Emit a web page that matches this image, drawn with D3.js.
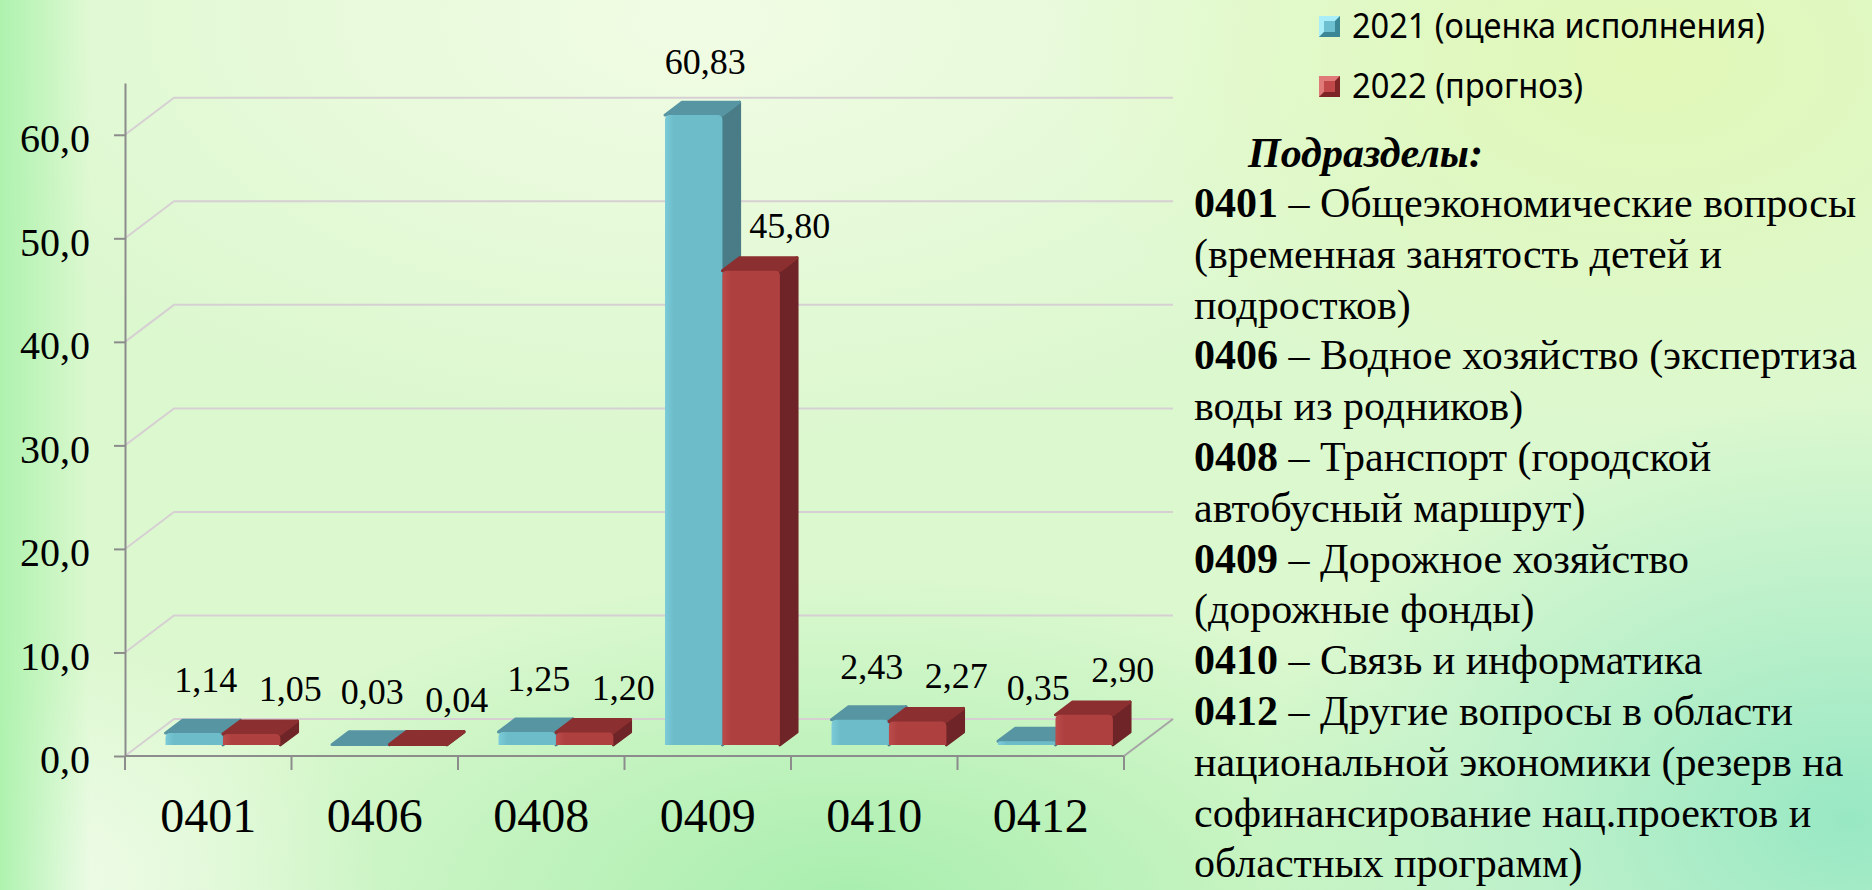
<!DOCTYPE html>
<html>
<head>
<meta charset="utf-8">
<script src="https://cdn.jsdelivr.net/npm/d3@7"></script>
<style>
  html, body { margin: 0; padding: 0; overflow: hidden; }
  svg { display: block; }
</style>
</head>
<body>
<div id="chart"></div>
<script>
// data
const categories = ["0401", "0406", "0408", "0409", "0410", "0412"];
const series2021 = [1.14, 0.03, 1.25, 60.83, 2.43, 0.35];
const series2022 = [1.05, 0.04, 1.20, 45.80, 2.27, 2.90];
const seriesNames = ["2021 (оценка исполнения)", "2022 (прогноз)"];
const yTicks = [0, 10, 20, 30, 40, 50, 60];
const noteTitle = "Подразделы:";
const noteLines = [
  ["0401", " – Общеэкономические вопросы"],
  ["", "(временная занятость детей и"],
  ["", "подростков)"],
  ["0406", " – Водное хозяйство (экспертиза"],
  ["", "воды из родников)"],
  ["0408", " – Транспорт (городской"],
  ["", "автобусный маршрут)"],
  ["0409", " – Дорожное хозяйство"],
  ["", "(дорожные фонды)"],
  ["0410", " – Связь и информатика"],
  ["0412", " – Другие вопросы в области"],
  ["", "национальной экономики (резерв на"],
  ["", "софинансирование нац.проектов и"],
  ["", "областных программ)"],
];

const width = 1872, height = 890;
const serif = "'Liberation Serif', 'Times New Roman', serif";

const svg = d3.select("#chart").append("svg")
  .attr("width", width).attr("height", height);
const defs = svg.append("defs");

// ---- background: soft green gradients
function radial(id, stops) {
  const g = defs.append("radialGradient").attr("id", id);
  stops.forEach(s => g.append("stop").attr("offset", s[0]).attr("stop-color", s[1]).attr("stop-opacity", s[2]));
}
radial("bgBotMid", [[0, "#a8eeae", 1], [1, "#a8eeae", 0]]);
radial("bgBotRight", [[0, "#98e8c4", 1], [1, "#98e8c4", 0]]);
radial("bgTopRight", [[0, "#e2f8b8", 1], [1, "#e2f8b8", 0]]);
radial("bgTopMid", [[0, "#f1fce4", 1], [1, "#f1fce4", 0]]);
radial("bgBotLeft", [[0, "#f0fceb", 1], [1, "#f0fceb", 0]]);
const leftEdge = defs.append("linearGradient").attr("id", "bgLeft");
leftEdge.append("stop").attr("offset", 0).attr("stop-color", "#aef2ae").attr("stop-opacity", 1);
leftEdge.append("stop").attr("offset", 1).attr("stop-color", "#aef2ae").attr("stop-opacity", 0);

svg.append("rect").attr("width", width).attr("height", height).attr("fill", "#dcf8cf");
svg.append("ellipse").attr("cx", 700).attr("cy", 20).attr("rx", 800).attr("ry", 420).attr("fill", "url(#bgTopMid)");
svg.append("ellipse").attr("cx", 1650).attr("cy", 60).attr("rx", 600).attr("ry", 380).attr("fill", "url(#bgTopRight)");
svg.append("ellipse").attr("cx", 850).attr("cy", 900).attr("rx", 700).attr("ry", 330).attr("fill", "url(#bgBotMid)");
svg.append("ellipse").attr("cx", 1850).attr("cy", 820).attr("rx", 600).attr("ry", 420).attr("fill", "url(#bgBotRight)");
svg.append("ellipse").attr("cx", 0).attr("cy", 890).attr("rx", 380).attr("ry", 260).attr("fill", "url(#bgBotLeft)");
svg.append("rect").attr("width", 90).attr("height", height).attr("fill", "url(#bgLeft)");

// ---- scales
const x0 = 125, x1 = 1124, yBase = 756;
const depth = { dx: 49, dy: -37 };     // floor depth of the 3D box
const front = 0.3, thick = 0.35;        // where bars sit in that depth

const x = d3.scaleBand().domain(categories).range([x0, x1]);
const y = d3.scaleLinear().domain([0, 65]).range([yBase, 83]);
const barW = x.bandwidth() * 0.345;
const groupPad = (x.bandwidth() - 2 * barW) / 2;

const gridColor = "#d6d0d3";
const axisColor = "#8c8c8c";

// ---- back wall gridlines + side wall diagonals
const grid = svg.append("g");
yTicks.forEach(v => {
  const yy = y(v);
  grid.append("path")
    .attr("d", `M${x0},${yy}L${x0 + depth.dx},${yy + depth.dy}L${x1 + depth.dx},${yy + depth.dy}`)
    .attr("fill", "none").attr("stroke", gridColor).attr("stroke-width", 2);
});
// floor right edge
svg.append("line")
  .attr("x1", x1).attr("y1", yBase).attr("x2", x1 + depth.dx).attr("y2", yBase + depth.dy)
  .attr("stroke", "#a5a5a5").attr("stroke-width", 2);

// ---- axes
const yAxis = svg.append("g")
  .attr("transform", `translate(${x0},0)`)
  .call(d3.axisLeft(y).tickValues(yTicks).tickSize(11).tickSizeOuter(0).tickPadding(24)
    .tickFormat(d => d3.format(".1f")(d).replace(".", ",")));
yAxis.select(".domain").attr("stroke", axisColor).attr("stroke-width", 2);
yAxis.selectAll(".tick line").attr("stroke", axisColor).attr("stroke-width", 2);
yAxis.selectAll("text").attr("font-family", serif).attr("font-size", 40)
  .attr("fill", "#000").attr("dy", "0.42em");

const xAxis = svg.append("g")
  .attr("transform", `translate(0,${yBase})`)
  .call(d3.axisBottom(x).tickSize(0).tickPadding(42));
xAxis.select(".domain").remove();
xAxis.selectAll("text").attr("font-family", serif).attr("font-size", 48).attr("fill", "#000");
svg.append("line")
  .attr("x1", x0).attr("x2", x1).attr("y1", yBase).attr("y2", yBase)
  .attr("stroke", axisColor).attr("stroke-width", 2);
svg.append("g").selectAll("line")
  .data(categories.map(c => x(c)).concat([x1]))
  .join("line")
  .attr("x1", d => d).attr("x2", d => d)
  .attr("y1", yBase).attr("y2", yBase + 14)
  .attr("stroke", axisColor).attr("stroke-width", 2);

// ---- 3D bars
const palette = [
  { front: "#6dbcca", frontLight: "#7ccbd8", top: "#5795a3", side: "#497c87" },
  { front: "#ae4040", frontLight: "#bb4c4a", top: "#8c2f30", side: "#6f2527" },
];
palette.forEach((p, i) => {
  const g = defs.append("linearGradient").attr("id", "front" + i)
    .attr("x1", 0).attr("y1", 0).attr("x2", 1).attr("y2", 0);
  g.append("stop").attr("offset", 0).attr("stop-color", p.frontLight);
  g.append("stop").attr("offset", 0.15).attr("stop-color", p.front);
  g.append("stop").attr("offset", 1).attr("stop-color", p.front);
});

const bars = [];
categories.forEach((c, i) => {
  [series2021[i], series2022[i]].forEach((v, s) => bars.push({ cat: c, s, v }));
});

const fdx = depth.dx * front, fdy = depth.dy * front;
const tdx = depth.dx * thick, tdy = depth.dy * thick;

const barG = svg.append("g");
bars.forEach(b => {
  const p = palette[b.s];
  const left = x(b.cat) + groupPad + b.s * barW + fdx;
  const right = left + barW;
  const bottom = y(0) + fdy;
  const top = y(b.v) + fdy;
  const g = barG.append("g");
  // side face
  g.append("path")
    .attr("d", `M${right},${bottom}L${right},${top}L${right + tdx},${top + tdy}L${right + tdx},${bottom + tdy}Z`)
    .attr("fill", p.side).attr("stroke", p.side).attr("stroke-linejoin", "round").attr("stroke-width", 3);
  // top face
  g.append("path")
    .attr("d", `M${left},${top}L${left + tdx},${top + tdy}L${right + tdx},${top + tdy}L${right},${top}Z`)
    .attr("fill", p.top).attr("stroke", p.top).attr("stroke-linejoin", "round").attr("stroke-width", 3);
  // front face
  const h = bottom - top;
  if (h > 1) {
    const r = Math.min(5, h / 2);
    g.append("path")
      .attr("d", `M${left},${bottom}L${left},${top + r}Q${left},${top} ${left + r},${top}` +
        `L${right - r},${top}Q${right},${top} ${right},${top + r}L${right},${bottom}Z`)
      .attr("fill", `url(#front${b.s})`);
  }
});

// ---- value labels
const fmt = v => d3.format(".2f")(v).replace(".", ",");
svg.append("g").selectAll("text")
  .data(bars)
  .join("text")
  .attr("x", d => x(d.cat) + groupPad + d.s * barW + fdx + barW / 2 + tdx / 2 + (d.s ? 30 : 3))
  .attr("y", d => y(d.v) + fdy + tdy - (d.s ? 20 : 28))
  .attr("text-anchor", "middle")
  .attr("font-family", serif).attr("font-size", 36).attr("fill", "#000")
  .text(d => fmt(d.v));

// ---- legend
const legendColors = [
  { c: "#6cc0d0", hi: "#a9eef8", lo: "#3b8796" },
  { c: "#c04848", hi: "#e07a78", lo: "#7d2526" },
];
const legend = svg.append("g").attr("transform", "translate(1319,16)");
seriesNames.forEach((name, i) => {
  const g = legend.append("g").attr("transform", `translate(0,${i * 60})`);
  const s = 21, b = 5;
  g.append("rect").attr("width", s).attr("height", s).attr("fill", legendColors[i].c);
  g.append("path").attr("d", `M0,0L${s},0L${s - b},${b}L${b},${b}ZM0,0L${b},${b}L${b},${s - b}L0,${s}Z`)
    .attr("fill", legendColors[i].hi);
  g.append("path").attr("d", `M${s},0L${s},${s}L${s - b},${s - b}L${s - b},${b}ZM0,${s}L${b},${s - b}L${s - b},${s - b}L${s},${s}Z`)
    .attr("fill", legendColors[i].lo);
  g.append("text")
    .attr("x", 33).attr("y", 22)
    .attr("font-family", "'Noto Sans', 'Open Sans', sans-serif").attr("font-size", 34)
    .attr("textLength", i === 0 ? 413 : 231).attr("lengthAdjust", "spacingAndGlyphs")
    .attr("fill", "#000")
    .text(name);
});

// ---- explanatory text block
const notes = svg.append("g");
notes.append("text")
  .attr("x", 1248).attr("y", 167)
  .attr("font-family", serif).attr("font-size", 42)
  .attr("font-weight", "bold").attr("font-style", "italic")
  .text(noteTitle);
noteLines.forEach((ln, i) => {
  const t = notes.append("text")
    .attr("x", 1194).attr("y", 217 + i * 50.8)
    .attr("font-family", serif).attr("font-size", 42).attr("fill", "#000");
  if (ln[0]) t.append("tspan").attr("font-weight", "bold").text(ln[0]);
  t.append("tspan").text(ln[1]);
});
</script>
</body>
</html>
